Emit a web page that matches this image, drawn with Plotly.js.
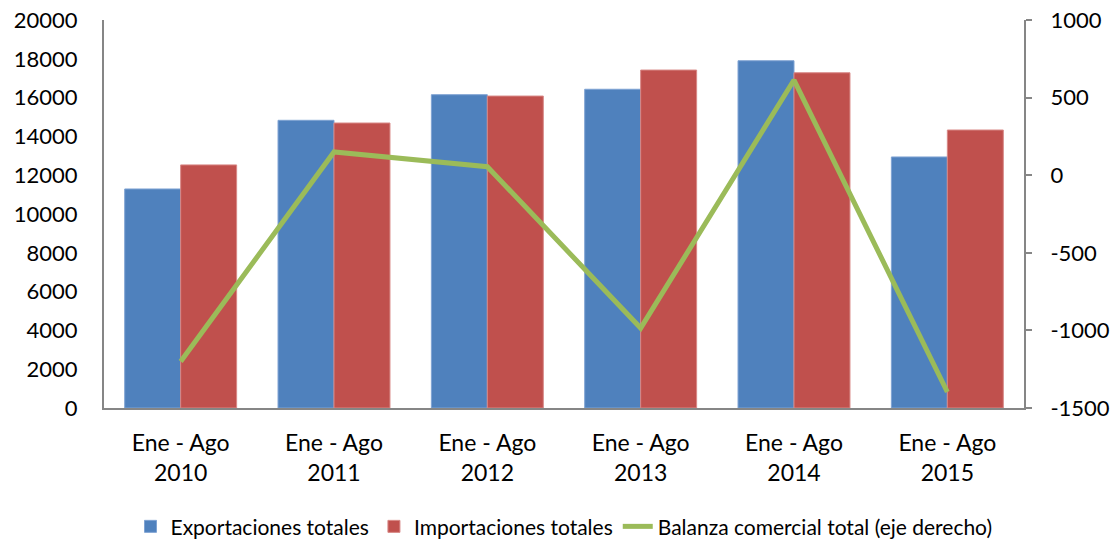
<!DOCTYPE html>
<html><head><meta charset="utf-8">
<script src="https://cdn.plot.ly/plotly-3.0.1.min.js"></script>
<style>body{margin:0;background:#fff}#c{width:1114px;height:543px}</style>
</head><body><div id="c"></div>
<script>
const categories = ["Ene - Ago<br>2010","Ene - Ago<br>2011","Ene - Ago<br>2012","Ene - Ago<br>2013","Ene - Ago<br>2014","Ene - Ago<br>2015"];
const exportaciones = [11290, 14830, 16150, 16430, 17900, 12940];
const importaciones = [12530, 14690, 16080, 17420, 17280, 14330];
const balanza = [-1200, 150, 55, -985, 613, -1397];
const leftTicks = [0,2000,4000,6000,8000,10000,12000,14000,16000,18000,20000];
const leftTickText = ["0","2000","4000","6000","8000","10000","12000","14000","16000","18000","20000"];
const rightTicks = [-1500,-1000,-500,0,500,1000];
const rightTickText = ["-1500","-1000","-500","0","500","1000"];

const font = {family: "Lato, 'Open Sans', sans-serif", color: "#000"};
const f = s => Object.assign({size:s}, font);
const data = [
  {type:"bar", name:"Exportaciones totales", x:categories, y:exportaciones, marker:{color:"#4F81BD", line:{color:"#7FA3D3", width:1}}},
  {type:"bar", name:"Importaciones totales", x:categories, y:importaciones, marker:{color:"#C0504D", line:{color:"#D88886", width:1}}},
  {type:"scatter", mode:"lines", name:"Balanza comercial total (eje derecho)", x:categories, y:balanza, yaxis:"y2", line:{color:"#9BBB59", width:5}}
];
const layout = {
  width:1114, height:543,
  margin:{l:104, r:90, t:20, b:135, autoexpand:false},
  paper_bgcolor:"#fff", plot_bgcolor:"#fff",
  font: f(20),
  barmode:"group", bargap:0.27, bargroupgap:0,
  showlegend:true,
  legend:{orientation:"h", x:0.5, xref:"paper", xanchor:"center", yref:"container", y:0.03, yanchor:"middle", font:f(21), traceorder:"normal"},
  xaxis:{showline:true, linecolor:"#868686", linewidth:2, ticks:"", tickfont:f(23), showgrid:false, automargin:false, ticklabelstandoff:13},
  yaxis:{range:[0,20000], tickvals:leftTicks, ticktext:leftTickText, showline:true, linecolor:"#868686", linewidth:2, ticks:"", showgrid:false, zeroline:false, tickfont:f(22), ticklabelstandoff:20, automargin:false},
  yaxis2:{range:[-1500,1000], tickvals:rightTicks, ticktext:rightTickText, overlaying:"y", side:"right", showline:true, linecolor:"#868686", linewidth:2, ticks:"outside", ticklen:6, tickcolor:"#868686", tickwidth:2, showgrid:false, zeroline:false, tickfont:f(22), ticklabelstandoff:14, automargin:false}
};
Plotly.newPlot("c", data, layout, {displayModeBar:false, staticPlot:true});
</script></body></html>
